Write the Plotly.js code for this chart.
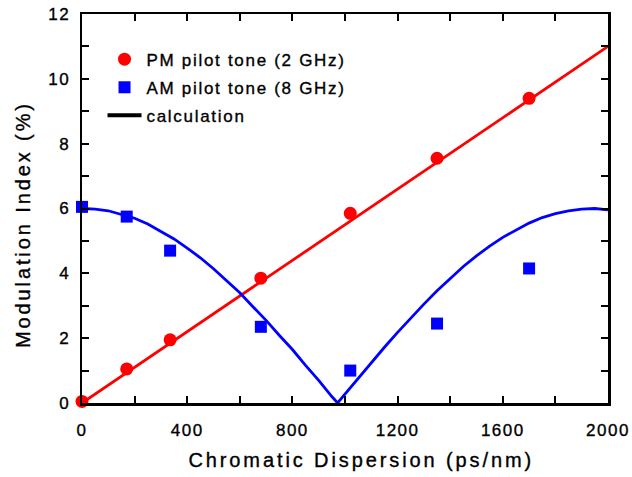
<!DOCTYPE html>
<html><head><meta charset="utf-8">
<script src="https://cdn.plot.ly/plotly-3.0.1.min.js"></script>
<style>
html,body{margin:0;padding:0;background:#fff}
#chart .xtick text, #chart .ytick text {letter-spacing: 1.5px;}
#chart .annotation-text {letter-spacing: 2.9px;}
#chart .legendtext {letter-spacing: 1.7px;}
#chart .xtick text, #chart .ytick text, #chart .annotation-text, #chart .legendtext {stroke: #000; stroke-width: 0.35px;}
#chart .legend .scrollbox, #chart .legend {clip-path: none !important;}
</style>
</head><body>
<div id="chart" style="width:632px;height:477px"></div>
<script>
const dispersion = [0, 170, 335, 680, 1020, 1350, 1700];
const pmIndex = [0.05, 1.05, 1.95, 3.85, 5.85, 7.55, 9.4];
const amIndex = [6.05, 5.75, 4.7, 2.35, 1.0, 2.45, 4.15];

const pmCalcX = [0, 2000];
const pmCalcY = [0, 11.0];

const amCalcX = [0, 50, 100, 150, 200, 250, 300, 350, 400, 450, 500, 550, 600, 650, 700, 750, 800, 850, 900, 950, 972, 995, 1050, 1100, 1150, 1200, 1250, 1300, 1350, 1400, 1450, 1500, 1550, 1600, 1650, 1700, 1750, 1800, 1850, 1900, 1950, 2000];
const amCalcY = [6.0, 5.98, 5.93, 5.82, 5.7, 5.52, 5.3, 5.06, 4.78, 4.48, 4.14, 3.77, 3.4, 2.97, 2.55, 2.09, 1.65, 1.16, 0.7, 0.2, 0.0, 0.23, 0.77, 1.25, 1.72, 2.18, 2.63, 3.05, 3.46, 3.85, 4.21, 4.54, 4.84, 5.11, 5.34, 5.55, 5.72, 5.84, 5.93, 5.98, 6.0, 5.96];

const xTicks = [0, 400, 800, 1200, 1600, 2000];
const yTicks = [0, 2, 4, 6, 8, 10, 12];
const xTitle = 'Chromatic Dispersion (ps/nm)';
const yTitle = 'Modulation Index (%)';

const font = "Liberation Sans, Arial, sans-serif";

const traces = [
  {x: pmCalcX, y: pmCalcY, mode: 'lines', line: {color: '#ff0000', width: 2.8}, showlegend: false, hoverinfo: 'skip'},
  {x: amCalcX, y: amCalcY, mode: 'lines', line: {color: '#0000ff', width: 2.8}, showlegend: false, hoverinfo: 'skip'},
  {x: dispersion, y: pmIndex, mode: 'markers', name: 'PM pilot tone (2 GHz)', legendgroup: 'a', marker: {symbol: 'circle', color: '#ff0000', size: 13}, cliponaxis: false},
  {x: dispersion, y: amIndex, mode: 'markers', name: 'AM pilot tone (8 GHz)', legendgroup: 'b', marker: {symbol: 'square', color: '#0000ff', size: 12}, cliponaxis: false},
  {x: [null], y: [null], mode: 'lines', name: 'calculation', legendgroup: 'c', line: {color: '#000000', width: 4}}
];

const layout = {
  width: 632, height: 477,
  margin: {l: 82, r: 24, t: 14, b: 74},
  paper_bgcolor: '#fff', plot_bgcolor: '#fff',
  font: {family: font, color: '#000', size: 17},
  showlegend: true,
  legend: {x: 0.039, y: 0.929, xanchor: 'left', yanchor: 'top', bgcolor: 'rgba(0,0,0,0)', font: {size: 17, family: font}, itemwidth: 34, tracegroupgap: 3},
  xaxis: {
    range: [0, 2000], tickvals: xTicks, ticktext: xTicks.map(String),
    ticks: 'inside', ticklen: 7, tickwidth: 2, tickcolor: '#000',
    minor: {ticks: 'inside', dtick: 200, ticklen: 7, tickwidth: 2, tickcolor: '#000'},
    showline: true, linecolor: '#000', linewidth: 2.5, mirror: 'allticks',
    showgrid: false, zeroline: false, ticklabelstandoff: 10,
    tickfont: {size: 17, family: font}
  },
  yaxis: {
    range: [0, 12], tickvals: yTicks, ticktext: yTicks.map(String),
    ticks: 'inside', ticklen: 7, tickwidth: 2, tickcolor: '#000',
    minor: {ticks: 'inside', dtick: 1, ticklen: 7, tickwidth: 2, tickcolor: '#000'},
    showline: true, linecolor: '#000', linewidth: 2.5, mirror: 'allticks',
    showgrid: false, zeroline: false, ticklabelstandoff: 6,
    tickfont: {size: 17, family: font}
  },
  annotations: [
    {text: xTitle, xref: 'paper', yref: 'paper', x: 0.532, y: -0.1465, xanchor: 'center', yanchor: 'middle', showarrow: false, font: {size: 20, family: font, color: '#000'}},
    {text: yTitle, xref: 'paper', yref: 'paper', x: -0.112, y: 0.4576, xanchor: 'center', yanchor: 'middle', textangle: -90, showarrow: false, font: {size: 20, family: font, color: '#000'}}
  ]
};

Plotly.newPlot('chart', traces, layout, {displayModeBar: false, staticPlot: true});
</script>
</body></html>
